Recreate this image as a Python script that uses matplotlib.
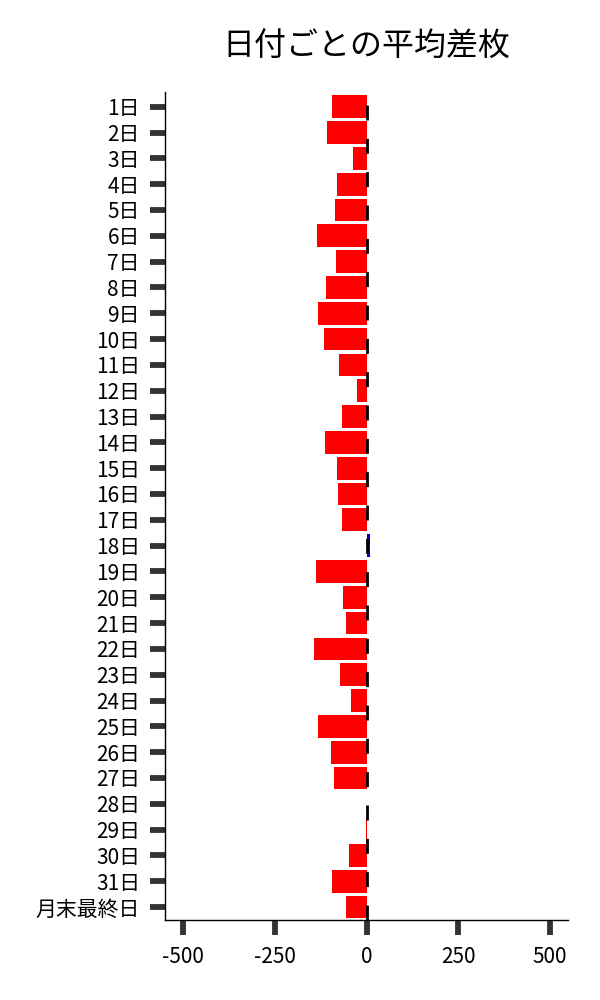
import matplotlib
matplotlib.use("Agg")
import matplotlib.pyplot as plt

plt.rcParams['font.family'] = ['Noto Sans CJK JP', 'DejaVu Sans']
plt.rcParams['axes.unicode_minus'] = False

days = [f"{i}日" for i in range(1, 32)] + ["月末最終日"]
diff = [-95, -109, -38, -82, -87, -136, -84, -111, -133, -117,
        -76, -27, -68, -114, -82, -79, -68, 9, -139, -65,
        -57, -144, -73, -43, -133, -98, -90, 1, -1, -49,
        -95, -57]

colors = ['#0000cd' if v > 0 else 'red' for v in diff]

fig = plt.figure(figsize=(6, 10), dpi=100)
ax = fig.add_axes([0.275, 0.08, 0.672, 0.828])

ax.barh(range(len(days)), diff, height=0.88, color=colors, zorder=2)
ax.axvline(0, color='k', lw=2, dashes=(5.4, 6.6), zorder=3)

ax.set_yticks(range(len(days)))
ax.set_yticklabels(days)
ax.set_ylim(len(days) - 0.5, -0.57)
ax.set_xlim(-550, 550)
ax.set_xticks([-500, -250, 0, 250, 500])

ax.tick_params(axis='both', length=11, width=4.2, color='#333333',
               labelsize=15, pad=7)
ax.tick_params(axis='x', pad=8)

for s in ['top', 'right']:
    ax.spines[s].set_visible(False)
for s in ['left', 'bottom']:
    ax.spines[s].set_linewidth(1)

ax.set_title("日付ごとの平均差枚", fontsize=23, pad=26)

fig.savefig("out.png", dpi=100)
